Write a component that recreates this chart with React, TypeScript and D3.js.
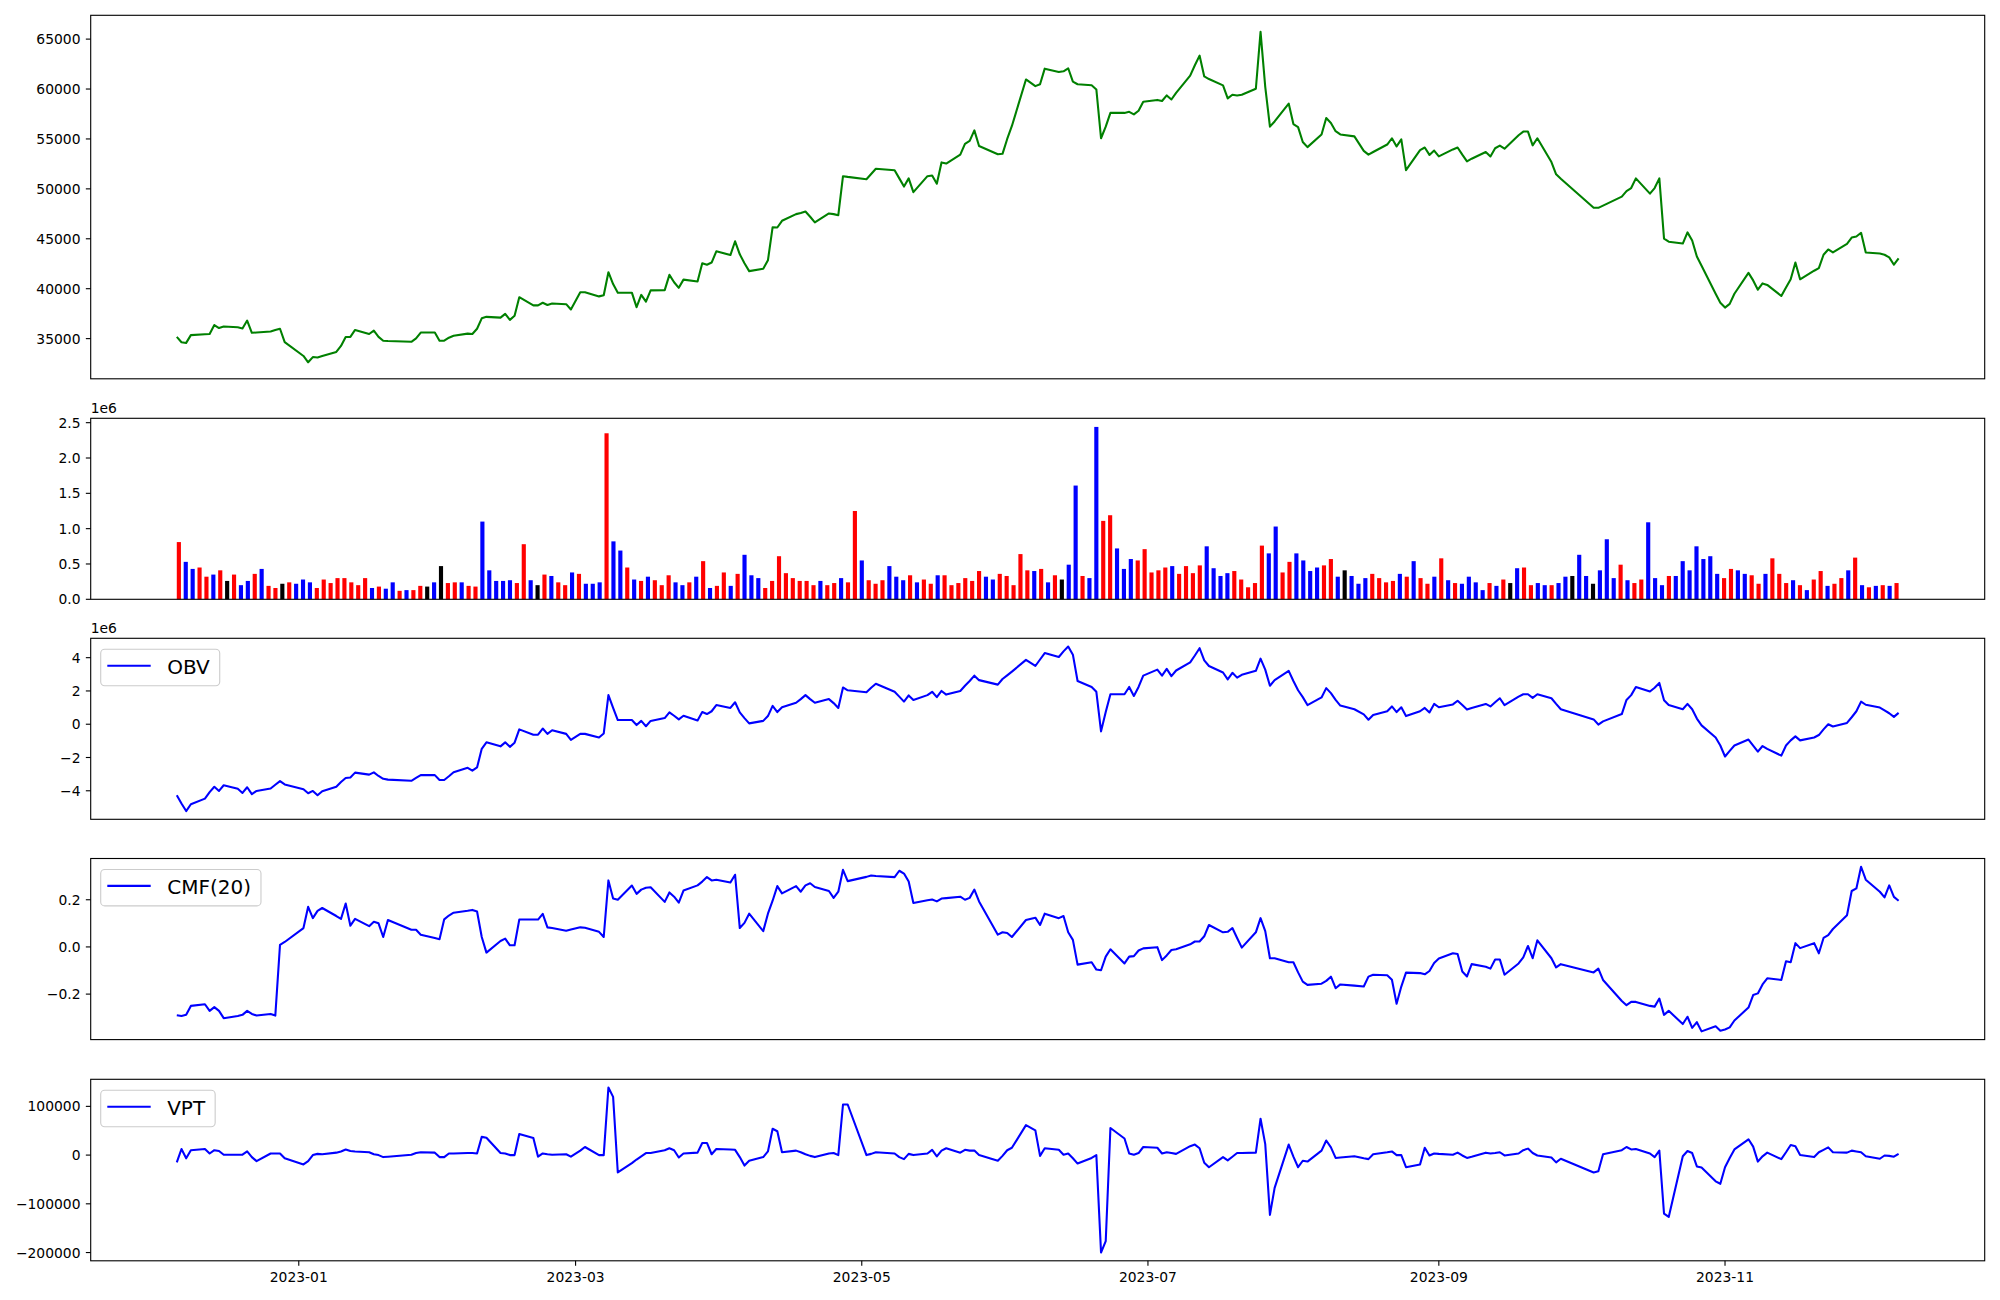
import React from "react";
import * as d3 from "d3";

// ---------- DATA ----------
const START_DATE = "2022-12-06";
const END_DATE = "2023-12-08";
// market holidays (weekdays without trading)
const HOLIDAYS = [
  "2022-12-30", "2023-01-23", "2023-01-24", "2023-03-01", "2023-05-01", "2023-05-05",
  "2023-05-29", "2023-06-06", "2023-08-15", "2023-09-28", "2023-09-29", "2023-10-02",
  "2023-10-03", "2023-10-09",
];

const CLOSE = [
  35170,34640,34570,35350,35430,35460,36360,36060,36210,36130,
  36020,36810,35580,35610,35720,35870,35990,34640,33260,32630,
  33150,33110,33260,33670,34270,35170,35170,35870,35460,35800,
  35170,34790,34760,34680,35020,35610,35610,34790,34790,35090,
  35280,35500,35460,35990,37030,37180,37100,37480,36880,37290,
  39150,38330,38330,38590,38370,38520,38450,37920,39640,39640,
  39230,39340,41650,40460,39600,39600,38150,39380,38710,39830,
  39860,41390,40650,40090,40910,40720,42550,42400,42620,43740,
  43370,44750,43440,42550,41760,41990,42840,46160,46130,46800,
  47470,47580,47730,47210,46650,47540,47470,47360,51270,51200,
  50970,51490,52020,51870,51050,50230,51050,49670,51270,51340,
  50520,52650,52540,53430,54510,54810,55860,54290,53470,53510,
  55000,56300,60960,60290,60480,62040,61710,61780,62080,60740,
  60480,60370,59960,55070,56230,57610,57610,57720,57460,57830,
  58730,58910,58800,59360,58950,59620,61340,62380,63350,61260,
  61000,60370,59060,59430,59360,59430,60030,65730,60220,56230,
  56750,58540,56490,56190,54700,54180,55450,57090,56600,55780,
  55450,55260,53810,53430,53690,54440,55070,54250,54960,51870,
  53880,54140,53400,53840,53250,53950,54140,53430,52760,53020,
  53690,53250,54070,54330,54030,55370,55740,55740,54360,55070,
  52690,51460,51010,48100,48100,48320,49220,49780,50080,51050,
  49520,50080,51050,45010,44710,44520,45640,44820,43220,42290,
  39490,38590,38110,38480,39490,41580,40830,39900,40530,40380,
  39270,40120,40940,42620,40940,41800,42060,43400,43930,43630,
  44490,45120,45230,45600,43630,43520,43400,43140,42400,43030,
];

// volume in millions
const VOLUME_M = [
  .81,.53,.43,.45,.32,.35,.41,.26,.35,.20,
  .26,.36,.43,.19,.16,.22,.24,.22,.28,.24,
  .16,.28,.23,.30,.30,.24,.20,.30,.16,.18,
  .15,.24,.12,.13,.13,.19,.18,.24,.47,.23,
  .24,.24,.19,.18,1.10,.41,.26,.26,.27,.23,
  .78,.27,.20,.35,.33,.24,.20,.38,.36,.22,
  .22,.24,2.35,.82,.69,.45,.28,.26,.32,.27,
  .20,.34,.24,.20,.24,.32,.54,.16,.19,.38,
  .19,.36,.63,.34,.30,.16,.26,.61,.37,.30,
  .26,.26,.20,.26,.20,.23,.30,.24,1.25,.55,
  .27,.22,.27,.47,.32,.27,.34,.24,.28,.22,
  .34,.34,.20,.23,.30,.26,.40,.32,.28,.36,
  .33,.20,.64,.41,.40,.43,.24,.34,.28,.49,
  1.61,.33,.30,2.44,1.11,1.19,.72,.43,.57,.55,
  .71,.38,.41,.45,.47,.36,.47,.37,.48,.75,
  .44,.33,.37,.40,.28,.17,.23,.76,.65,1.03,
  .38,.53,.65,.55,.40,.45,.48,.57,.32,.41,
  .33,.22,.30,.36,.30,.24,.26,.36,.32,.54,
  .30,.22,.32,.58,.27,.23,.22,.32,.24,.13,
  .23,.19,.28,.23,.44,.45,.20,.23,.20,.20,
  .23,.32,.33,.63,.33,.22,.41,.85,.30,.49,
  .27,.23,.28,1.09,.30,.20,.33,.33,.54,.41,
  .75,.57,.61,.36,.30,.43,.41,.36,.34,.22,
  .36,.58,.36,.23,.27,.20,.13,.28,.40,.19,
  .22,.30,.41,.59,.20,.17,.19,.20,.19,.23,
];

// r = red, b = blue, k = black
const BAR_COLOR_CODES = [
  "rbbrrbrkrb","brbrrkrbbb","rrrrrrrrbr","bbrbrrkbkr","rbrrbbbbbr",
  "rbkrbrrbrb","bbrbbrbrbr","rrbbrbrbrr","brbbbrrrrr","rrrbrrbrrb",
  "rrrbbbrbrr","brrrrrrbbr","rrrrbrbrkb","brbbrrbbbr","rrrrbrrrrb",
  "bbbrrrrrbb","rrbbbbrrbk","bbbrrrrbrb","rrbrbrbbbb","rbrkbrrbbr",
  "bbkbbkbbbr","brrbbbrbbb","bbbbrrbbrr","brrrbrbrrb","rrbrbrbrbr",
].join("");

// OBV in millions
const OBV_M = [
  -4.27,-4.76,-5.22,-4.81,-4.47,-4.08,-3.76,-4.01,-3.67,-3.88,
  -4.13,-3.79,-4.20,-4.01,-3.86,-3.64,-3.42,-3.62,-3.91,-4.15,
  -4.01,-4.27,-4.03,-3.76,-3.47,-3.23,-3.20,-2.91,-3.03,-2.89,
  -3.11,-3.28,-3.33,-3.40,-3.23,-3.06,-3.06,-3.35,-3.35,-3.13,
  -2.89,-2.62,-2.79,-2.60,-1.48,-1.09,-1.33,-1.09,-1.36,-1.11,
  -0.31,-0.63,-0.63,-0.26,-0.58,-0.36,-0.58,-0.94,-0.58,-0.58,
  -0.80,-0.56,1.75,0.98,0.25,0.25,-0.05,0.20,-0.12,0.20,
  0.37,0.71,0.51,0.29,0.51,0.22,0.73,0.61,0.78,1.15,
  0.98,1.32,0.71,0.37,0.05,0.20,0.49,1.10,0.73,1.02,
  1.29,1.51,1.75,1.51,1.29,1.51,1.27,0.98,2.21,2.04,
  1.92,2.19,2.43,1.95,1.66,1.36,1.73,1.46,1.75,1.95,
  1.63,2.00,1.78,2.00,2.31,2.60,2.92,2.65,2.38,2.72,
  2.94,3.16,3.87,3.50,3.89,4.28,4.04,4.38,4.67,4.18,
  2.60,2.24,1.95,-0.43,0.73,1.80,1.80,2.24,1.70,2.24,
  2.92,3.28,2.92,3.33,2.89,3.23,3.72,4.13,4.57,3.84,
  3.50,3.11,2.70,3.09,2.80,2.97,3.21,3.94,3.28,2.31,
  2.65,3.21,2.60,2.04,1.63,1.15,1.61,2.17,1.87,1.46,
  1.12,0.90,0.59,0.27,0.56,0.78,1.07,0.73,1.02,0.49,
  0.78,0.98,0.71,1.22,1.02,1.19,1.41,1.15,0.88,0.98,
  1.22,1.07,1.32,1.56,1.15,1.66,1.80,1.80,1.58,1.80,
  1.56,1.22,0.90,0.29,-0.02,0.17,0.61,1.46,1.75,2.24,
  1.97,2.19,2.48,1.44,1.15,0.90,1.22,0.90,0.34,-0.07,
  -0.80,-1.28,-1.94,-1.60,-1.28,-0.92,-1.28,-1.65,-1.31,-1.48,
  -1.89,-1.28,-0.97,-0.73,-0.97,-0.80,-0.65,-0.31,0.00,-0.14,
  0.08,0.42,0.78,1.36,1.17,1.00,0.83,0.66,0.44,0.68,
];

const CMF20 = [
  -0.290,-0.293,-0.288,-0.250,-0.243,-0.271,-0.255,-0.271,-0.302,-0.293,
  -0.288,-0.271,-0.284,-0.291,-0.284,-0.291,0.009,0.021,0.080,0.170,
  0.122,0.153,0.165,0.131,0.119,0.184,0.090,0.119,0.088,0.107,
  0.100,0.042,0.114,0.073,0.073,0.052,0.038,0.033,0.117,0.133,
  0.145,0.153,0.157,0.150,0.042,-0.024,0.025,0.035,0.007,0.007,
  0.116,0.116,0.116,0.140,0.083,0.080,0.069,0.074,0.083,0.081,
  0.064,0.042,0.282,0.205,0.200,0.260,0.225,0.243,0.251,0.253,
  0.191,0.231,0.213,0.188,0.239,0.261,0.277,0.296,0.282,0.285,
  0.273,0.306,0.080,0.102,0.141,0.067,0.141,0.196,0.258,0.227,
  0.258,0.234,0.261,0.270,0.254,0.237,0.208,0.234,0.327,0.279,
  0.297,0.303,0.301,0.296,0.323,0.311,0.277,0.186,0.198,0.201,
  0.193,0.205,0.207,0.213,0.200,0.208,0.243,0.193,0.052,0.062,
  0.059,0.042,0.114,0.124,0.093,0.141,0.122,0.131,0.062,0.030,
  -0.075,-0.065,-0.096,-0.099,-0.041,-0.010,-0.070,-0.041,-0.039,-0.015,
  -0.006,-0.001,-0.056,-0.036,-0.013,-0.010,0.011,0.023,0.023,0.045,
  0.093,0.062,0.064,0.080,0.038,-0.003,0.062,0.122,0.067,-0.048,
  -0.048,-0.065,-0.065,-0.108,-0.147,-0.161,-0.156,-0.144,-0.126,-0.175,
  -0.159,-0.164,-0.168,-0.126,-0.118,-0.120,-0.139,-0.241,-0.168,-0.109,
  -0.111,-0.116,-0.102,-0.068,-0.049,-0.027,-0.030,-0.104,-0.125,-0.073,
  -0.084,-0.092,-0.053,-0.053,-0.118,-0.070,-0.044,0.004,-0.048,0.028,
  -0.048,-0.087,-0.073,-0.108,-0.092,-0.140,-0.229,-0.247,-0.233,-0.233,
  -0.250,-0.253,-0.219,-0.288,-0.271,-0.327,-0.296,-0.343,-0.319,-0.358,
  -0.336,-0.355,-0.350,-0.341,-0.312,-0.257,-0.204,-0.197,-0.159,-0.133,
  -0.140,-0.061,-0.065,0.016,-0.005,0.016,-0.027,0.038,0.050,0.076,
  0.134,0.237,0.248,0.340,0.285,0.234,0.210,0.261,0.212,0.196,
];

// VPT in thousands
const VPT_K = [
  -14.9,12.5,-6.6,10.0,12.5,3.3,10.0,8.3,0.8,0.8,
  0.8,7.5,-4.1,-12.4,3.3,3.3,3.3,-6.6,-19.1,-12.4,
  0.0,2.5,1.7,5.0,7.5,11.6,8.3,7.5,5.8,1.7,
  0.0,-4.1,-3.3,0.8,4.2,5.8,5.0,-4.1,-4.1,3.3,
  3.3,4.2,4.2,3.3,37.4,35.7,4.2,3.3,0.0,0.0,
  43.2,34.9,-3.3,3.3,1.7,0.8,1.7,-3.3,9.2,16.6,
  0.0,0.0,138.6,119.5,-35.7,-16.6,-9.1,-2.5,4.2,4.2,
  10.0,14.1,10.0,-5.0,3.3,5.0,24.9,24.9,1.7,12.5,
  11.6,10.8,-4.1,-21.5,-11.6,-4.1,7.5,54.0,49.0,5.8,
  9.2,5.8,1.7,-1.6,-4.1,3.3,4.2,0.0,103.8,103.8,
  0.0,2.5,5.8,3.3,-4.1,-8.3,2.5,0.0,3.3,10.8,
  -2.5,9.2,14.1,5.0,10.8,9.2,9.2,0.0,-11.6,-1.6,
  10.0,15.0,61.4,50.6,-1.6,14.1,10.8,0.8,3.3,-6.6,
  -17.4,-5.8,0.0,-200.0,-176.7,55.6,34.1,3.3,0.8,4.2,
  16.6,15.0,3.3,5.8,4.2,2.5,18.3,21.6,14.1,-15.8,
  -24.9,-4.1,-10.8,-3.3,4.2,4.2,5.0,74.7,22.4,-122.8,
  -67.2,21.6,-3.3,-24.9,-11.6,-13.3,9.2,29.9,15.8,-5.8,
  -5.0,-2.5,-6.6,-8.3,1.7,5.8,7.5,0.0,0.0,-24.9,
  -19.1,15.0,-0.8,3.3,2.5,0.8,5.0,-0.8,-5.8,-3.3,
  5.0,3.3,4.2,5.8,-0.8,3.3,10.0,13.3,4.2,-0.8,
  -5.0,-14.9,-7.5,-35.7,-33.2,1.7,10.0,16.6,11.6,12.5,
  3.3,-4.1,9.2,-120.3,-127.0,-2.5,8.3,4.2,-23.2,-25.7,
  -53.9,-58.9,-24.9,-5.8,11.6,32.4,17.4,-13.3,-2.5,5.0,
  -8.3,5.8,20.8,18.3,0.0,-4.1,5.8,10.8,15.8,5.8,
  5.0,9.2,7.5,5.8,-2.5,-7.5,-0.8,-1.6,-3.3,2.5,
];

const X_TICK_LABELS = ["2023-01", "2023-03", "2023-05", "2023-07", "2023-09", "2023-11"];
const PRICE_TICKS = [35000, 40000, 45000, 50000, 55000, 60000, 65000];
const VOLUME_TICKS = [0, 0.5, 1.0, 1.5, 2.0, 2.5];
const OBV_TICKS = [-4, -2, 0, 2, 4];
const CMF_TICKS = [-0.2, 0.0, 0.2];
const VPT_TICKS = [-200000, -100000, 0, 100000];

const BAR_COLOR_MAP: Record<string, string> = { r: "red", b: "blue", k: "black" };

// ---------- LAYOUT ----------
const W = 2000, H = 1300;
const AX_L = 90.7, AX_R = 1984.7;
const FONT = "'DejaVu Sans', Verdana, sans-serif";
const TICK_FS = 13.89;
const LEG_FS = 20;
const LW = 2.08;
const SPINE = 1.11;
const TICK_LEN = 4.86;

const P_PRICE = [15.3, 378.8];
const P_VOL = [418.3, 599.3];
const P_OBV = [638.3, 819.3];
const P_CMF = [858.5, 1039.6];
const P_VPT = [1079.3, 1260.8];

function parseUTC(s: string): Date {
  const [y, m, d] = s.split("-").map(Number);
  return new Date(Date.UTC(y, m - 1, d || 1));
}

function tradingDays(): Date[] {
  const hol = new Set(HOLIDAYS);
  const out: Date[] = [];
  const end = parseUTC(END_DATE).getTime();
  for (let t = parseUTC(START_DATE).getTime(); t <= end; t += 86400000) {
    const d = new Date(t);
    const wd = d.getUTCDay();
    if (wd === 0 || wd === 6) continue;
    if (hol.has(d.toISOString().slice(0, 10))) continue;
    out.push(d);
  }
  return out;
}

function padDomain(lo: number, hi: number, f = 0.05): [number, number] {
  const m = (hi - lo) * f;
  return [lo - m, hi + m];
}

const mfmt = (s: string) => s.replace("-", "\u2212");

function measure(text: string, fs: number): number {
  try {
    const ctx = document.createElement("canvas").getContext("2d")!;
    ctx.font = `${fs}px 'DejaVu Sans'`;
    return ctx.measureText(text).width;
  } catch {
    return text.length * fs * 0.68;
  }
}

function YAxis({ scale, ticks, fmt }: { scale: (v: number) => number; ticks: number[]; fmt: (v: number) => string }) {
  return (
    <g>
      {ticks.map((t) => {
        const y = scale(t);
        return (
          <g key={t}>
            <line x1={AX_L - TICK_LEN} x2={AX_L} y1={y} y2={y} stroke="#000" strokeWidth={SPINE} />
            <text x={AX_L - 10.2} y={y} dy="0.36em" textAnchor="end" fontSize={TICK_FS} fontFamily={FONT} fill="#000">
              {fmt(t)}
            </text>
          </g>
        );
      })}
    </g>
  );
}

function Frame({ top, bottom }: { top: number; bottom: number }) {
  return <rect x={AX_L} y={top} width={AX_R - AX_L} height={bottom - top} fill="none" stroke="#000" strokeWidth={SPINE} />;
}

function Legend({ top, label }: { top: number; label: string }) {
  const bx = AX_L + 10;
  const by = top + 11;
  const tw = measure(label, LEG_FS);
  const w = 66.5 + tw + 10;
  const h = 36.4;
  return (
    <g>
      <rect x={bx} y={by} width={w} height={h} rx={4} ry={4} fill="#fff" fillOpacity={0.8} stroke="#cccccc" strokeWidth={SPINE} />
      <line x1={bx + 6.6} x2={bx + 50} y1={top + 27.4} y2={top + 27.4} stroke="blue" strokeWidth={LW} />
      <text x={bx + 66.5} y={top + 35.2} fontSize={LEG_FS} fontFamily={FONT} fill="#000">
        {label}
      </text>
    </g>
  );
}

function OffsetText({ top, text }: { top: number; text: string }) {
  return (
    <text x={AX_L} y={top - 5.3} fontSize={TICK_FS} fontFamily={FONT} fill="#000">
      {text}
    </text>
  );
}

export default function App() {
  const dates = tradingDays();
  const n = dates.length;
  const t0 = dates[0].getTime();
  const t1 = dates[n - 1].getTime();
  const xTime = d3.scaleUtc().domain(padDomain(t0, t1).map((v) => new Date(v))).range([AX_L, AX_R]);

  const barW = 0.6;
  const xIdx = d3.scaleLinear().domain(padDomain(-barW / 2, n - 1 + barW / 2)).range([AX_L, AX_R]);
  const barPx = xIdx(barW) - xIdx(0);

  const linePanel = (vals: number[], unit: number, box: number[], color: string) => {
    const ext = d3.extent(vals) as [number, number];
    const y = d3.scaleLinear().domain(padDomain(ext[0] * unit, ext[1] * unit)).range([box[1], box[0]]);
    const path = d3
      .line<number>()
      .x((_, i) => xTime(dates[i]))
      .y((v) => y(v * unit))(vals.slice(0, n)) as string;
    return { y, path, color };
  };

  const price = linePanel(CLOSE, 1, P_PRICE, "green");
  const obv = linePanel(OBV_M, 1e6, P_OBV, "blue");
  const cmf = linePanel(CMF20, 1, P_CMF, "blue");
  const vpt = linePanel(VPT_K, 1e3, P_VPT, "blue");

  const volMax = (d3.max(VOLUME_M) as number) * 1e6;
  const yVol = d3.scaleLinear().domain([0, volMax * 1.05]).range([P_VOL[1], P_VOL[0]]);

  const xTicks = X_TICK_LABELS.map((s) => ({ label: s, x: xTime(parseUTC(s)) }));

  return (
    <svg
      width={W}
      height={H}
      viewBox={`0 0 ${W} ${H}`}
      style={{ position: "absolute", left: 0, top: 0, background: "#fff" }}
    >
      <rect x={0} y={0} width={W} height={H} fill="#fff" />

      {/* Price */}
      <path d={price.path} fill="none" stroke={price.color} strokeWidth={LW} strokeLinejoin="round" />
      <YAxis scale={price.y} ticks={PRICE_TICKS} fmt={(v) => String(v)} />
      <Frame top={P_PRICE[0]} bottom={P_PRICE[1]} />

      {/* Volume */}
      <g>
        {VOLUME_M.slice(0, n).map((v, i) => {
          const yTop = yVol(v * 1e6);
          return (
            <rect
              key={i}
              x={xIdx(i) - barPx / 2}
              y={yTop}
              width={barPx}
              height={yVol(0) - yTop}
              fill={BAR_COLOR_MAP[BAR_COLOR_CODES[i]] || "black"}
            />
          );
        })}
      </g>
      <YAxis scale={(v) => yVol(v * 1e6)} ticks={VOLUME_TICKS} fmt={(v) => v.toFixed(1)} />
      <OffsetText top={P_VOL[0]} text="1e6" />
      <Frame top={P_VOL[0]} bottom={P_VOL[1]} />

      {/* OBV */}
      <path d={obv.path} fill="none" stroke={obv.color} strokeWidth={LW} strokeLinejoin="round" />
      <YAxis scale={(v) => obv.y(v * 1e6)} ticks={OBV_TICKS} fmt={(v) => mfmt(String(v))} />
      <OffsetText top={P_OBV[0]} text="1e6" />
      <Frame top={P_OBV[0]} bottom={P_OBV[1]} />
      <Legend top={P_OBV[0]} label="OBV" />

      {/* CMF */}
      <path d={cmf.path} fill="none" stroke={cmf.color} strokeWidth={LW} strokeLinejoin="round" />
      <YAxis scale={cmf.y} ticks={CMF_TICKS} fmt={(v) => mfmt(v.toFixed(1))} />
      <Frame top={P_CMF[0]} bottom={P_CMF[1]} />
      <Legend top={P_CMF[0]} label="CMF(20)" />

      {/* VPT */}
      <path d={vpt.path} fill="none" stroke={vpt.color} strokeWidth={LW} strokeLinejoin="round" />
      <YAxis scale={vpt.y} ticks={VPT_TICKS} fmt={(v) => mfmt(String(v))} />
      <Frame top={P_VPT[0]} bottom={P_VPT[1]} />
      <Legend top={P_VPT[0]} label="VPT" />

      {/* X axis (bottom) */}
      <g>
        {xTicks.map((t) => (
          <g key={t.label}>
            <line x1={t.x} x2={t.x} y1={P_VPT[1]} y2={P_VPT[1] + TICK_LEN} stroke="#000" strokeWidth={SPINE} />
            <text x={t.x} y={P_VPT[1] + 21.2} textAnchor="middle" fontSize={TICK_FS} fontFamily={FONT} fill="#000">
              {t.label}
            </text>
          </g>
        ))}
      </g>
    </svg>
  );
}
